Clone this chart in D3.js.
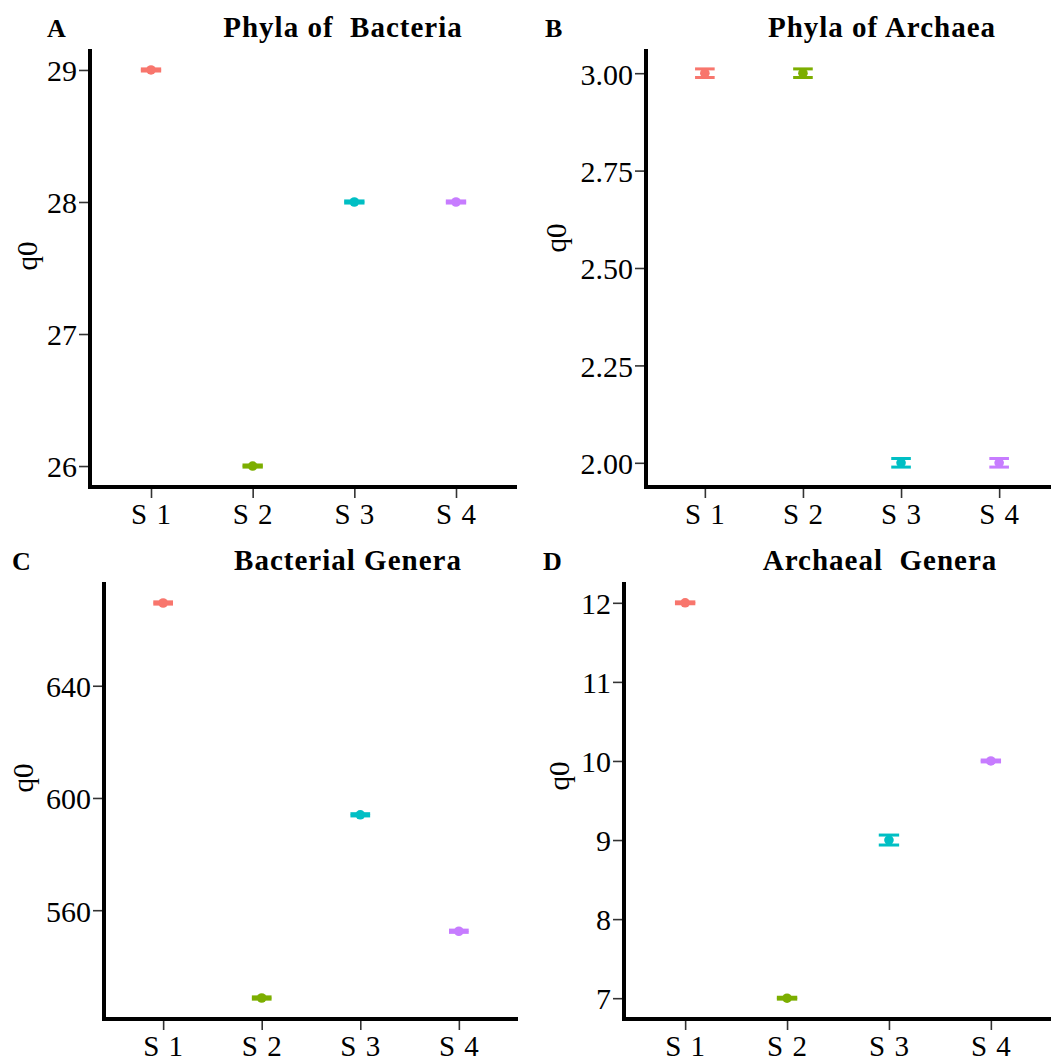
<!DOCTYPE html>
<html>
<head>
<meta charset="utf-8">
<script src="https://cdn.jsdelivr.net/npm/d3@7"></script>
<style>
  html, body { margin: 0; padding: 0; background: #fff; }
  svg { display: block; }
  text { font-family: "Liberation Serif", "Times New Roman", serif; }
</style>
</head>
<body>
<svg id="chart" width="1051" height="1059"></svg>
<script>
// ---- data ----
const categories = ["S 1", "S 2", "S 3", "S 4"];
const colors = ["#F8766D", "#7CAE00", "#00BFC4", "#C77CFF"];

const bacteriaPhylaValues = [29, 26, 28, 28];
const bacteriaPhylaSE     = [0.008, 0.008, 0.008, 0.008];
const bacteriaPhylaTicks  = [26, 27, 28, 29];

const archaeaPhylaValues = [3, 3, 2, 2];
const archaeaPhylaSE     = [0.011, 0.011, 0.011, 0.011];
const archaeaPhylaTicks  = [2.00, 2.25, 2.50, 2.75, 3.00];

const bacterialGeneraValues = [669.5, 528.7, 594, 552.5];
const bacterialGeneraSE     = [0.4, 0.4, 0.4, 0.4];
const bacterialGeneraTicks  = [560, 600, 640];

const archaealGeneraValues = [12, 7, 9, 10];
const archaealGeneraSE     = [0.012, 0.012, 0.063, 0.012];
const archaealGeneraTicks  = [7, 8, 9, 10, 11, 12];

const panelLetters = ["A", "B", "C", "D"];
const panelTitles = ["Phyla of  Bacteria", "Phyla of Archaea", "Bacterial Genera", "Archaeal  Genera"];
const yTitle = "q0";

// ---- layout ----
const panels = [
  { letter: panelLetters[0], title: panelTitles[0], values: bacteriaPhylaValues, se: bacteriaPhylaSE, ticks: bacteriaPhylaTicks, fmt: d3.format("d"),
    x0: 90, x1: 517, y0: 487, y1: 49, titleX: 343, titleY: 37, letterX: 47, yTitleX: 28, yTitleY: 256 },
  { letter: panelLetters[1], title: panelTitles[1], values: archaeaPhylaValues, se: archaeaPhylaSE, ticks: archaeaPhylaTicks, fmt: d3.format(".2f"),
    x0: 646, x1: 1058, y0: 487, y1: 49, titleX: 882, titleY: 37, letterX: 545, yTitleX: 557, yTitleY: 238 },
  { letter: panelLetters[2], title: panelTitles[2], values: bacterialGeneraValues, se: bacterialGeneraSE, ticks: bacterialGeneraTicks, fmt: d3.format("d"),
    x0: 104, x1: 518, y0: 1019, y1: 582, titleX: 348, titleY: 570, letterX: 12, yTitleX: 24, yTitleY: 778 },
  { letter: panelLetters[3], title: panelTitles[3], values: archaealGeneraValues, se: archaealGeneraSE, ticks: archaealGeneraTicks, fmt: d3.format("d"),
    x0: 624, x1: 1052, y0: 1019, y1: 582, titleX: 880, titleY: 570, letterX: 543, yTitleX: 560, yTitleY: 776 }
];

const svg = d3.select("#chart");

panels.forEach(p => {
  const g = svg.append("g");
  const lo = d3.min(p.values.map((v, i) => v - p.se[i]));
  const hi = d3.max(p.values.map((v, i) => v + p.se[i]));
  const pad = (hi - lo) * 0.05;
  const y = d3.scaleLinear().domain([lo - pad, hi + pad]).range([p.y0, p.y1]);
  const x = d3.scalePoint().domain(categories).range([p.x0, p.x1]).padding(0.6);
  const step = x.step();

  // y axis
  const yAxis = d3.axisLeft(y).tickValues(p.ticks).tickFormat(p.fmt).tickSize(11).tickPadding(2);
  const yg = g.append("g").attr("transform", `translate(${p.x0},0)`).call(yAxis);
  yg.select(".domain").remove();
  yg.selectAll(".tick line").attr("stroke", "#333").attr("stroke-width", 1.6);
  yg.selectAll(".tick text").attr("fill", "#000").style("font-size", "30px").attr("dy", "0.36em");

  // x axis
  const xAxis = d3.axisBottom(x).tickSize(11).tickPadding(6);
  const xg = g.append("g").attr("transform", `translate(0,${p.y0})`).call(xAxis);
  xg.select(".domain").remove();
  xg.selectAll(".tick line").attr("stroke", "#333").attr("stroke-width", 1.6);
  xg.selectAll(".tick text").attr("fill", "#000").style("font-size", "29px").style("letter-spacing", "1px").attr("dy", "0.68em");

  // axis lines
  g.append("line").attr("x1", p.x0).attr("x2", p.x0).attr("y1", p.y1).attr("y2", p.y0 + 2)
    .attr("stroke", "#000").attr("stroke-width", 4);
  g.append("line").attr("x1", p.x0 - 2).attr("x2", p.x1).attr("y1", p.y0).attr("y2", p.y0)
    .attr("stroke", "#000").attr("stroke-width", 4);

  // error bars + points
  const hw = step * 0.1;
  categories.forEach((c, i) => {
    const cx = x(c), v = p.values[i], s = p.se[i];
    const col = colors[i];
    g.append("line").attr("x1", cx).attr("x2", cx).attr("y1", y(v - s)).attr("y2", y(v + s))
      .attr("stroke", col).attr("stroke-width", 3);
    [v - s, v + s].forEach(t => {
      g.append("line").attr("x1", cx - hw).attr("x2", cx + hw).attr("y1", y(t)).attr("y2", y(t))
        .attr("stroke", col).attr("stroke-width", 3);
    });
    g.append("circle").attr("cx", cx).attr("cy", y(v)).attr("r", 4.8).attr("fill", col);
  });

  // titles
  g.append("text").attr("x", p.titleX).attr("y", p.titleY).attr("text-anchor", "middle")
    .style("font-size", "29px").style("font-weight", "bold").style("letter-spacing", "1px")
    .style("white-space", "pre").attr("xml:space", "preserve").text(p.title);
  g.append("text").attr("x", p.letterX).attr("y", p.titleY)
    .style("font-size", "26px").style("font-weight", "bold").text(p.letter);
  g.append("text").attr("transform", `translate(${p.yTitleX},${p.yTitleY}) rotate(-90)`)
    .attr("text-anchor", "middle").attr("dy", "0.32em").style("font-size", "29px").text(yTitle);
});
</script>
</body>
</html>
